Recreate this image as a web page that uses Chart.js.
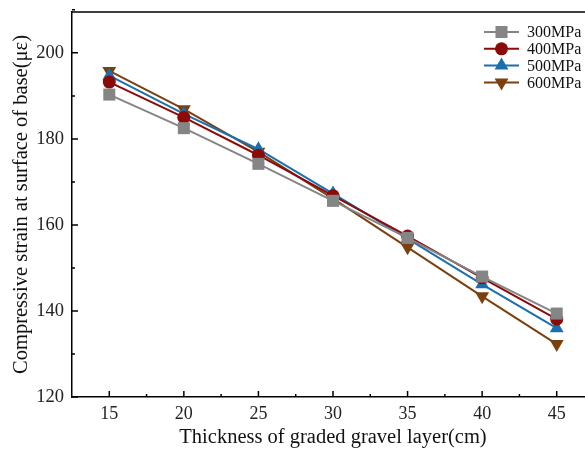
<!DOCTYPE html>
<html>
<head>
<meta charset="utf-8">
<script src="https://cdn.jsdelivr.net/npm/chart.js@4"></script>
<style>
  html, body { margin: 0; padding: 0; background: #fff; overflow: hidden; }
  #wrap { width: 610px; height: 450px; }
</style>
</head>
<body>
<div id="wrap"><canvas id="chart" width="610" height="450"></canvas></div>
<script>
// Epaisseur (cm) et deformation (µε)
const thickness = [15, 20, 25, 30, 35, 40, 45];
const xTicks = [15, 20, 25, 30, 35, 40, 45];
const yTicks = [120, 140, 160, 180, 200];

const s300 = [190.3, 182.5, 174.2, 165.6, 157.0, 148.0, 139.4];
const s400 = [193.2, 185.0, 176.2, 166.8, 157.4, 147.7, 138.1];
const s500 = [194.7, 185.8, 177.6, 167.3, 156.8, 146.2, 136.0];
const s600 = [195.8, 186.9, 177.0, 166.1, 154.8, 143.4, 132.3];

const labels = ['300MPa', '400MPa', '500MPa', '600MPa'];

const FONT = '"Liberation Serif", "Times New Roman", serif';

function makeSet(label, values, color, style, radius, rotation) {
    return {
        label: label,
        data: values.map((v, i) => ({ x: thickness[i], y: v })),
        borderColor: color,
        backgroundColor: color,
        borderWidth: 2,
        pointStyle: style,
        pointRadius: radius,
        pointHoverRadius: radius,
        pointRotation: rotation,
        pointBorderWidth: 0,
        tension: 0
    };
}

// Ticks vers l'interieur + cadre du haut + legende
const axesPlugin = {
    id: 'axesPlugin',
    afterDraw(chart) {
        const ctx = chart.ctx;
        const area = chart.chartArea;
        const xs = chart.scales.x;
        const ys = chart.scales.y;
        ctx.save();
        ctx.strokeStyle = '#000';
        ctx.lineWidth = 1.5;
        ctx.beginPath();
        ctx.moveTo(area.left, area.top);
        ctx.lineTo(area.right, area.top);
        xTicks.forEach(v => {
            const px = xs.getPixelForValue(v);
            ctx.moveTo(px, area.bottom); ctx.lineTo(px, area.bottom - 6);
            const pm = xs.getPixelForValue(v + 2.5);
            ctx.moveTo(pm, area.bottom); ctx.lineTo(pm, area.bottom - 3);
        });
        yTicks.forEach(v => {
            const py = ys.getPixelForValue(v);
            ctx.moveTo(area.left, py); ctx.lineTo(area.left + 6, py);
            const pm = ys.getPixelForValue(v + 10);
            ctx.moveTo(area.left, pm); ctx.lineTo(area.left + 3, pm);
        });
        ctx.stroke();

        // legende
        ctx.font = '16px ' + FONT;
        ctx.textBaseline = 'middle';
        chart.data.datasets.forEach((ds, i) => {
            const y = 32 + i * 16.8;
            const x0 = 484, x1 = 519;
            ctx.strokeStyle = ds.borderColor;
            ctx.lineWidth = 2;
            ctx.beginPath();
            ctx.moveTo(x0, y); ctx.lineTo(x1, y);
            ctx.stroke();
            ctx.fillStyle = ds.backgroundColor;
            Chart.helpers.drawPoint(ctx, {
                pointStyle: ds.pointStyle,
                rotation: ds.pointRotation,
                borderWidth: 0,
                radius: ds.pointRadius
            }, (x0 + x1) / 2, y);
            ctx.fillStyle = '#111';
            ctx.fillText(ds.label, 527, y + 1);
        });
        ctx.restore();
    }
};

const ctx = document.getElementById('chart').getContext('2d');
new Chart(ctx, {
    type: 'line',
    data: {
        datasets: [
            makeSet(labels[0], s300, '#858585', 'rect', 8.5, 0),
            makeSet(labels[1], s400, '#8b0a0a', 'circle', 6.5, 0),
            makeSet(labels[2], s500, '#1c6fae', 'triangle', 8, 0),
            makeSet(labels[3], s600, '#7a4010', 'triangle', 8, 180)
        ]
    },
    options: {
        responsive: false,
        animation: false,
        layout: { padding: { top: 12, right: 16, left: 0, bottom: 0 } },
        plugins: {
            legend: { display: false },
            tooltip: { enabled: false }
        },
        scales: {
            x: {
                type: 'linear',
                min: 12.5,
                max: 47.5,
                afterBuildTicks: s => { s.ticks = xTicks.map(v => ({ value: v })); },
                afterFit: s => { s.height = 53; s.paddingLeft = 0; s.paddingRight = 0; },
                grid: { drawOnChartArea: false, drawTicks: false },
                border: { display: true, color: '#000', width: 1.5 },
                ticks: {
                    padding: 6,
                    color: '#222',
                    font: { family: FONT, size: 18 }
                },
                title: {
                    display: true,
                    text: 'Thickness of graded gravel layer(cm)',
                    color: '#111',
                    font: { family: FONT, size: 20.5 },
                    padding: { top: 0, bottom: 0 }
                }
            },
            y: {
                min: 120,
                max: 209.5,
                afterBuildTicks: s => { s.ticks = yTicks.map(v => ({ value: v })); },
                afterFit: s => { s.width = 72; s.paddingTop = 0; s.paddingBottom = 0; },
                grid: { drawOnChartArea: false, drawTicks: false },
                border: { display: true, color: '#000', width: 1.5 },
                ticks: {
                    padding: 8,
                    color: '#222',
                    font: { family: FONT, size: 18.5 }
                },
                title: {
                    display: true,
                    text: 'Compressive strain at surface of base(με)',
                    color: '#111',
                    font: { family: FONT, size: 20.5 },
                    padding: { top: 9, bottom: 0 }
                }
            }
        }
    },
    plugins: [axesPlugin]
});
</script>
</body>
</html>
